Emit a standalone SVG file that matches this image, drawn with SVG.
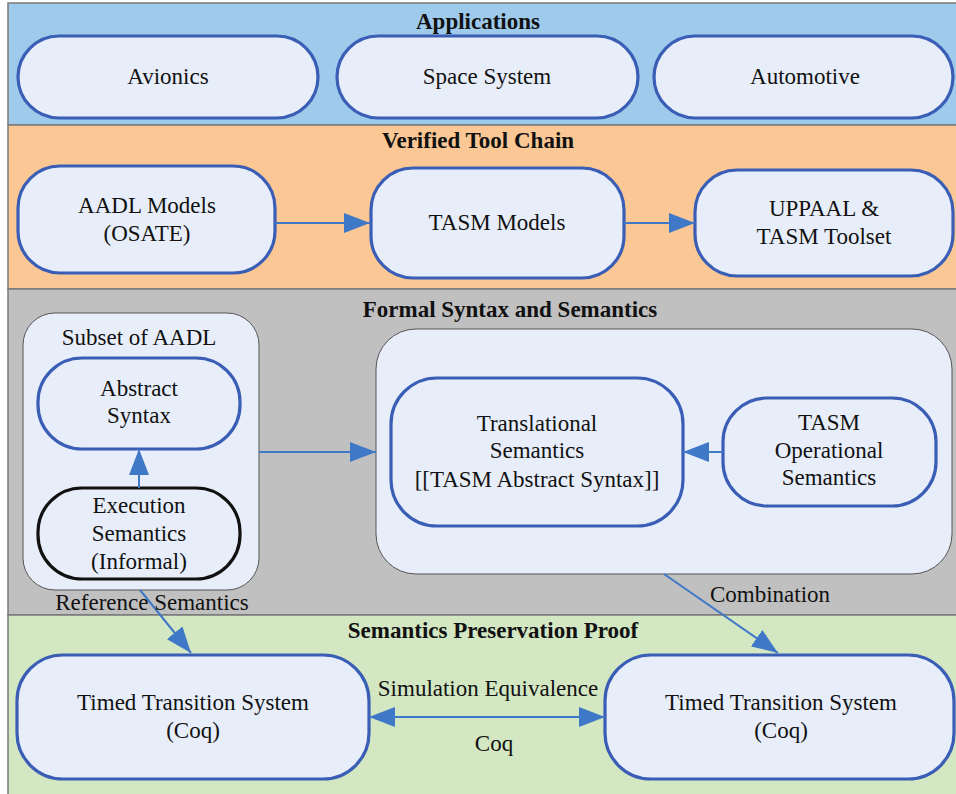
<svg xmlns="http://www.w3.org/2000/svg" width="956" height="794" viewBox="0 0 956 794">
<defs>
<marker id="ah" markerUnits="userSpaceOnUse" markerWidth="26" markerHeight="20" refX="26" refY="10" orient="auto-start-reverse" viewBox="0 0 26 20">
<path d="M0,0 L26,10 L0,20 z" fill="#3f78c6"/>
</marker>
<style>
.band{stroke:#7a7a7a;stroke-width:1.5}
.node{fill:#e8eef9;stroke:#3a5db5;stroke-width:3.2}
.blk{fill:#e8eef9;stroke:#111;stroke-width:3.2}
.cont{fill:#e8eef9;stroke:#555;stroke-width:1}
text{font-family:'Liberation Serif','Times New Roman',serif;font-size:23px;fill:#111;text-anchor:middle}
text.h{font-weight:bold}
.c{fill:none;stroke:#3f78c6;stroke-width:2;marker-end:url(#ah)}
</style>
</defs>
<rect width="956" height="794" fill="#ffffff"/>
<g id="bands">
<rect class="band" x="8" y="3" width="952" height="122" fill="#9ecaeb"/>
<rect class="band" x="8" y="125" width="952" height="164" fill="#fbc895"/>
<rect class="band" x="8" y="289" width="952" height="326" fill="#c0c0c0"/>
<rect class="band" x="8" y="615" width="952" height="182" fill="#d3e7c3"/>
<text class="h" x="478" y="29">Applications</text>
<text class="h" x="478" y="148">Verified Tool Chain</text>
<text class="h" x="510" y="317">Formal Syntax and Semantics</text>
<text class="h" x="493" y="638">Semantics Preservation Proof</text>
</g>
<g id="avionics"><rect class="node" x="18" y="36" width="300" height="82" rx="41"/><text x="168" y="84">Avionics</text></g>
<g id="space"><rect class="node" x="337" y="36" width="301" height="82" rx="41"/><text x="487" y="84">Space System</text></g>
<g id="automotive"><rect class="node" x="654" y="36" width="299" height="82" rx="41"/><text x="805" y="84">Automotive</text></g>
<g id="aadl"><rect class="node" x="18" y="166" width="257" height="107" rx="42"/><text x="147" y="213">AADL Models</text><text x="147" y="241">(OSATE)</text></g>
<g id="tasm"><rect class="node" x="371" y="168" width="253" height="110" rx="42"/><text x="497" y="230">TASM Models</text></g>
<g id="uppaal"><rect class="node" x="695" y="170" width="258" height="106" rx="42"/><text x="824" y="216">UPPAAL &amp;</text><text x="824" y="244">TASM Toolset</text></g>
<g id="subset"><rect class="cont" x="23" y="313" width="236" height="277" rx="32"/><text x="139" y="345">Subset of AADL</text></g>
<g id="abstract"><rect class="node" x="38" y="358" width="202" height="91" rx="44"/><text x="139" y="396">Abstract</text><text x="139" y="423">Syntax</text></g>
<g id="execution"><rect class="blk" x="38" y="488" width="202" height="91" rx="44"/><text x="139" y="513">Execution</text><text x="139" y="541">Semantics</text><text x="139" y="569">(Informal)</text></g>
<g id="formal"><rect class="cont" x="376" y="329" width="576" height="245" rx="40"/></g>
<g id="translational"><rect class="node" x="391" y="378" width="292" height="148" rx="46"/><text x="537" y="431">Translational</text><text x="537" y="458">Semantics</text><text x="537" y="487">[[TASM Abstract Syntax]]</text></g>
<g id="operational"><rect class="node" x="723" y="398" width="213" height="108" rx="44"/><text x="829" y="430">TASM</text><text x="829" y="458">Operational</text><text x="829" y="485">Semantics</text></g>
<g id="tts1"><rect class="node" x="17" y="655" width="352" height="124" rx="46"/><text x="193" y="710">Timed Transition System</text><text x="193" y="738">(Coq)</text></g>
<g id="tts2"><rect class="node" x="605" y="655" width="349" height="124" rx="46"/><text x="781" y="710">Timed Transition System</text><text x="781" y="738">(Coq)</text></g>
<g id="connectors">
<path class="c" d="M275,223 L370,223"/>
<path class="c" d="M624,223 L695,223"/>
<path class="c" d="M139,488 L139,449"/>
<path class="c" d="M259,452 L376,452"/>
<path class="c" d="M723,452 L683,452"/>
<path class="c" d="M140,590 L191,653"/>
<path class="c" d="M664,574 L778,653"/>
<path class="c" d="M369,717 L605,717" style="marker-start:url(#ah)"/>
<text x="152" y="610">Reference Semantics</text>
<text x="770" y="602">Combination</text>
<text x="488" y="696">Simulation Equivalence</text>
<text x="494" y="751">Coq</text>
</g>
</svg>
